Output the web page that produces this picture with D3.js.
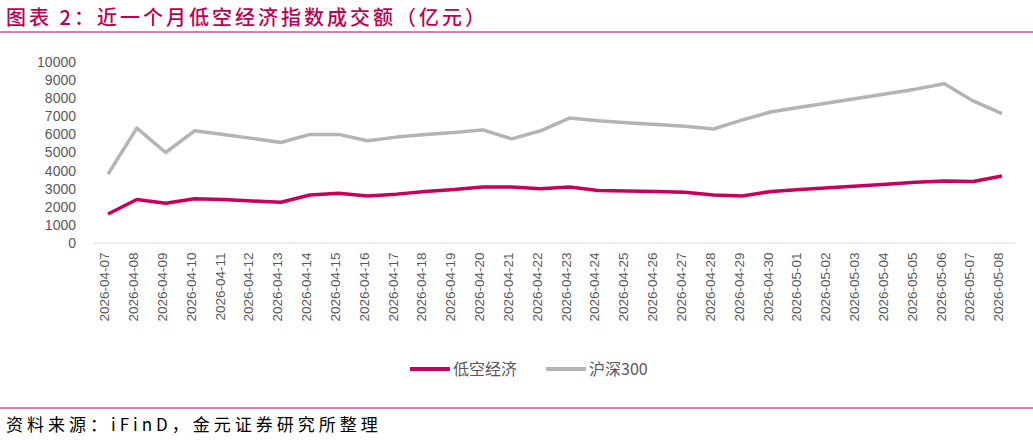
<!DOCTYPE html>
<html><head><meta charset="utf-8">
<script src="https://cdn.jsdelivr.net/npm/d3@7"></script>
<style>body{margin:0;background:#fff;font-family:"Noto Sans CJK SC","Liberation Sans",sans-serif;}</style>
</head><body>
<script>
//data
var dates = ["2026-04-07","2026-04-08","2026-04-09","2026-04-10","2026-04-11","2026-04-12","2026-04-13","2026-04-14","2026-04-15","2026-04-16","2026-04-17","2026-04-18","2026-04-19","2026-04-20","2026-04-21","2026-04-22","2026-04-23","2026-04-24","2026-04-25","2026-04-26","2026-04-27","2026-04-28","2026-04-29","2026-04-30","2026-05-01","2026-05-02","2026-05-03","2026-05-04","2026-05-05","2026-05-06","2026-05-07","2026-05-08"];
var lowAlt = [1600,2400,2200,2450,2400,2320,2250,2650,2750,2600,2700,2850,2950,3100,3100,3000,3100,2900,2870,2850,2800,2650,2600,2850,2950,3050,3150,3250,3350,3420,3400,3700];
var hs300 = [3800,6350,5000,6200,6000,5780,5550,6000,6000,5650,5850,6000,6100,6250,5750,6200,6900,6750,6650,6550,6450,6300,6800,7250,7500,7750,8000,8250,8500,8800,7850,7150];
var yTicks = d3.range(0, 10001, 1000);

var width = 1033, height = 440;
var svg = d3.select("body").append("svg").attr("width", width).attr("height", height);

//title and rules
svg.append("text").attr("x", 6).attr("y", 25).attr("fill", "#c0004f")
    .attr("font-size", 20).attr("letter-spacing", 3).attr("font-weight", 500)
    .text("图表 2：近一个月低空经济指数成交额（亿元）");
svg.append("line").attr("x1", 0).attr("x2", width).attr("y1", 32).attr("y2", 32)
    .attr("stroke", "#c0004f").attr("stroke-width", 1);
svg.append("line").attr("x1", 0).attr("x2", width).attr("y1", 408).attr("y2", 408)
    .attr("stroke", "#c0004f").attr("stroke-width", 1);
svg.append("text").attr("x", 6).attr("y", 431).attr("fill", "#000")
    .attr("font-size", 17).attr("letter-spacing", 4).text("资料来源：iFinD，金元证券研究所整理");

var x = d3.scalePoint().domain(dates).range([108, 1002]);
var y = d3.scaleLinear().domain([0, 10000]).range([243, 62]);

//x axis
var xAxis = svg.append("g").attr("transform", "translate(0,243)")
    .call(d3.axisBottom(x).tickSize(0).tickPadding(6));
xAxis.select(".domain").attr("stroke", "#d9d9d9").attr("d", "M94,0H1016");
xAxis.selectAll("text").attr("font-size", 13.5).attr("fill", "#595959")
    .attr("font-family", "Liberation Sans, sans-serif")
    .attr("text-anchor", "end").attr("dx", "-0.4em").attr("dy", "0.35em")
    .attr("transform", "rotate(-90) translate(-4,-10)");

//y axis
var yAxis = svg.append("g").attr("transform", "translate(80,0)")
    .call(d3.axisLeft(y).tickValues(yTicks).tickSize(0).tickPadding(4).tickFormat(d3.format("d")));
yAxis.select(".domain").remove();
yAxis.selectAll("text").attr("font-size", 14).attr("fill", "#595959")
    .attr("font-family", "Liberation Sans, sans-serif");

var line = d3.line().x(function(d, i){ return x(dates[i]); }).y(function(d){ return y(d); });

svg.append("path").datum(hs300).attr("d", line).attr("fill", "none")
    .attr("stroke", "#b4b4b4").attr("stroke-width", 3.5).attr("stroke-linejoin", "round");
svg.append("path").datum(lowAlt).attr("d", line).attr("fill", "none")
    .attr("stroke", "#c8005a").attr("stroke-width", 3.5).attr("stroke-linejoin", "round");

//legend
var legend = [["低空经济", "#c8005a", 410], ["沪深300", "#b4b4b4", 546]];
legend.forEach(function(l){
    svg.append("line").attr("x1", l[2]).attr("x2", l[2] + 40).attr("y1", 369).attr("y2", 369)
        .attr("stroke", l[1]).attr("stroke-width", 4);
    svg.append("text").attr("x", l[2] + 43).attr("y", 375).attr("font-size", 16)
        .attr("fill", "#595959").text(l[0]);
});
</script>
</body></html>
